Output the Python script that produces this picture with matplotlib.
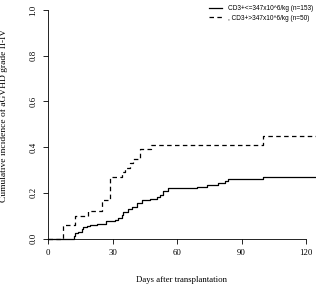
import matplotlib
matplotlib.use('Agg')
import matplotlib.pyplot as plt

# cumulative incidence curves
low_days = [0, 12.1, 12.6, 14.1, 15.7, 16.4, 18, 19.5, 22.6, 27, 31.2, 32.7, 34.3, 35,
            37.4, 38.9, 41.2, 43.6, 47.4, 50.5, 52, 53.6, 56, 69.2, 73.8, 79.2, 82.3,
            83.9, 100, 125]
low_cif = [0, 0.011, 0.023, 0.03, 0.04, 0.049, 0.054, 0.059, 0.064, 0.078, 0.083, 0.088,
           0.103, 0.118, 0.128, 0.14, 0.154, 0.169, 0.173, 0.183, 0.19, 0.21, 0.22, 0.227,
           0.235, 0.242, 0.25, 0.26, 0.267, 0.267]

high_days = [0, 7, 12.5, 18.6, 25, 28.6, 34.3, 35.8, 38, 39.7, 42.8, 47.9, 99.8, 125]
high_cif = [0, 0.06, 0.10, 0.12, 0.17, 0.27, 0.29, 0.31, 0.33, 0.35, 0.39, 0.41, 0.45, 0.45]

labels = ['CD3+<=347x10^6/kg (n=153)', ', CD3+>347x10^6/kg (n=50)']
xticks = [0, 30, 60, 90, 120]
yticks = [0.0, 0.2, 0.4, 0.6, 0.8, 1.0]

plt.rcParams['font.family'] = ['Liberation Serif', 'DejaVu Serif']

fig = plt.figure(figsize=(3.16, 2.88), dpi=100)
ax = fig.add_axes([48 / 316, 1 - 238.5 / 288, 1 - 48 / 316, 228.5 / 288])

ax.step(low_days, low_cif, where='post', color='black', lw=0.9, clip_on=False,
        label=labels[0])
ax.step(high_days, high_cif, where='post', color='black', lw=0.9, clip_on=False,
        linestyle=(0, (3.6, 2.7)), label=labels[1])

ax.set_xlim(0, 124.6)
ax.set_ylim(0, 1.0)
ax.spines['top'].set_visible(False)
ax.spines['right'].set_visible(False)
ax.spines['left'].set_bounds(0, 1)
ax.spines['bottom'].set_bounds(0, 120)
for s in ['left', 'bottom']:
    ax.spines[s].set_linewidth(0.6)

ax.set_xticks(xticks)
ax.set_xticklabels([str(t) for t in xticks])
ax.set_yticks(yticks)
ax.set_yticklabels(['%.1f' % t for t in yticks], rotation=90, va='center')
ax.tick_params(axis='both', length=3.5, width=0.6, labelsize=6.3, pad=4)

ax.set_xlabel('Days after transplantation', fontsize=6.3, labelpad=14)
ax.set_ylabel('Cumulative incidence of aGVHD grade II-IV', fontsize=6.8)
ax.yaxis.set_label_coords(-0.15, 0.54)

ax.legend(loc='upper left', bbox_to_anchor=(206 / 316, 0.993), bbox_transform=fig.transFigure,
          frameon=False, borderpad=0, handlelength=1.9, handletextpad=0.9,
          labelspacing=0.35, prop={'family': 'Liberation Sans', 'size': 4.7})

fig.savefig('out.png', dpi=100)
